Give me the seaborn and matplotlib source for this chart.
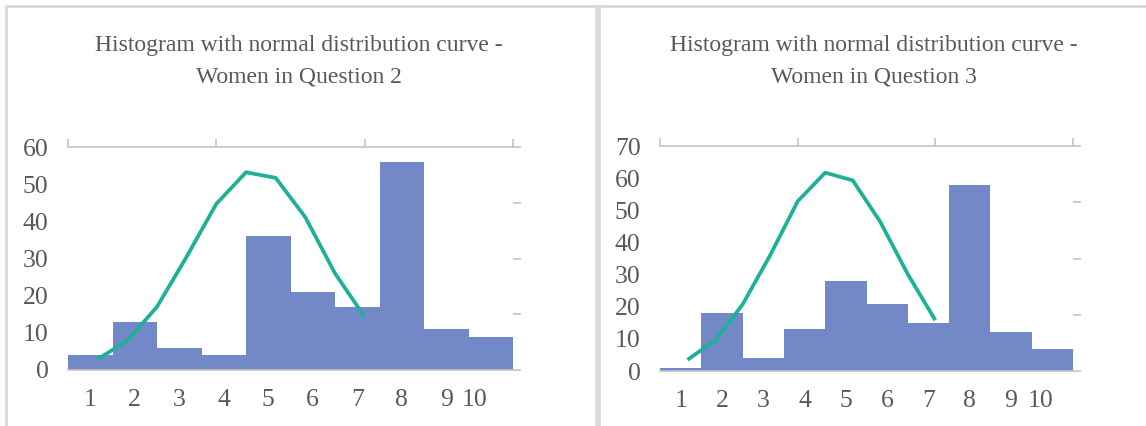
import numpy as np
import pandas as pd
import matplotlib
matplotlib.use("Agg")
import matplotlib.pyplot as plt
from matplotlib.transforms import ScaledTranslation
import seaborn as sns

# ---------------- data ----------------
categories = ["1", "2", "3", "4", "5", "6", "7", "8", "9", "10"]
q2_counts = [4, 13, 6, 4, 36, 21, 17, 56, 11, 9]
q3_counts = [1, 18, 4, 13, 28, 21, 15, 58, 12, 7]
curve_x = [1, 2, 3, 4, 5, 6, 7, 8, 9, 10]
q2_curve = [2.9, 7.9, 17.0, 30.5, 44.7, 53.2, 51.7, 41.1, 26.0, 14.3]
q3_curve = [3.5, 9.5, 20.7, 36.0, 52.8, 61.7, 59.3, 46.4, 30.1, 15.8]
q2_yticks = [0, 10, 20, 30, 40, 50, 60]
q3_yticks = [0, 10, 20, 30, 40, 50, 60, 70]
titles = ["Histogram with normal distribution curve -\nWomen in Question 2",
          "Histogram with normal distribution curve -\nWomen in Question 3"]

BAR = "#7388C6"
LINE = "#1DB197"
AXC = "#C4C4C4"
TXT = "#595959"
BORDER = "#D9D9D9"

sns.set_theme(style="white")
plt.rcParams["font.family"] = ["Liberation Serif", "DejaVu Serif"]

W, H = 1146, 426
fig = plt.figure(figsize=(W / 100, H / 100), dpi=100)

def fx(px):
    return px / W

def fy(py):
    return 1 - py / H

panels = [
    dict(counts=q2_counts, curve=q2_curve, yticks=q2_yticks, title=titles[0],
         rect=(68, 147, 513, 370), tcx=299, shift=-16),
    dict(counts=q3_counts, curve=q3_curve, yticks=q3_yticks, title=titles[1],
         rect=(660, 146, 1073, 371), tcx=874, shift=-12),
]

for p in panels:
    x0, y0, x1, y1 = p["rect"]
    rect = [fx(x0), fy(y1), fx(x1) - fx(x0), fy(y0) - fy(y1)]
    ax = fig.add_axes(rect)
    df = pd.DataFrame({"cat": categories, "n": p["counts"]})
    sns.barplot(data=df, x="cat", y="n", ax=ax, color=BAR, width=1.0,
                saturation=1, linewidth=0, order=categories)
    ymax = p["yticks"][-1]
    ax.set_xlim(-0.5, len(categories) - 0.5)
    ax.set_ylim(0, ymax)
    ax.set_yticks(p["yticks"])
    ax.set_xlabel("")
    ax.set_ylabel("")
    ax.set_facecolor("none")
    for s in ["left", "right", "top"]:
        ax.spines[s].set_visible(False)
    ax.spines["bottom"].set_color(AXC)
    ax.spines["bottom"].set_linewidth(1.2)
    ax.tick_params(axis="both", length=0, labelsize=18.5, labelcolor=TXT)
    ax.tick_params(axis="x", pad=14)
    ax.tick_params(axis="y", pad=14)
    ax.set_xticks(range(len(categories)))
    ax.set_xticklabels(categories)
    last = ax.get_xticklabels()[-1]
    last.set_transform(last.get_transform() +
                       ScaledTranslation(p["shift"] / 100, 0, fig.dpi_scale_trans))

    # secondary axes for the normal curve
    ax2 = fig.add_axes(rect, frameon=True)
    ax2.set_facecolor("none")
    sns.lineplot(x=curve_x, y=p["curve"], ax=ax2, color=LINE, linewidth=2.7)
    for ln in ax2.lines:
        ln.set_solid_joinstyle("round")
        ln.set_solid_capstyle("butt")
    ax2.set_xlim(0, 15)
    ax2.set_ylim(0, ymax)
    ax2.set_xticks([0, 5, 10, 15])
    ax2.set_yticks(np.linspace(0, ymax, 5))
    ax2.xaxis.tick_top()
    ax2.yaxis.tick_right()
    ax2.tick_params(axis="both", labeltop=False, labelright=False,
                    labelbottom=False, labelleft=False,
                    length=6, width=1.2, color=AXC, direction="out")
    for s in ["left", "right", "bottom"]:
        ax2.spines[s].set_visible(False)
    ax2.spines["top"].set_color(AXC)
    ax2.spines["top"].set_linewidth(1.2)
    ax2.set_xlabel("")
    ax2.set_ylabel("")

    l1, l2 = p["title"].split("\n")
    fig.text(fx(p["tcx"]), fy(51), l1, ha="center", va="baseline",
             fontsize=17, color=TXT)
    fig.text(fx(p["tcx"]), fy(82), l2, ha="center", va="baseline",
             fontsize=17, color=TXT)

# chart-box borders
for xs, ys in [([fx(6), fx(6)], [fy(6), 0]),
               ([fx(6), 1], [fy(6), fy(6)]),
               ([fx(595.5), fx(595.5)], [fy(6), 0]),
               ([fx(599), fx(599)], [fy(6), 0])]:
    fig.add_artist(plt.Line2D(xs, ys, transform=fig.transFigure,
                              color=BORDER, linewidth=2.0))

fig.savefig("out.png", dpi=100)
